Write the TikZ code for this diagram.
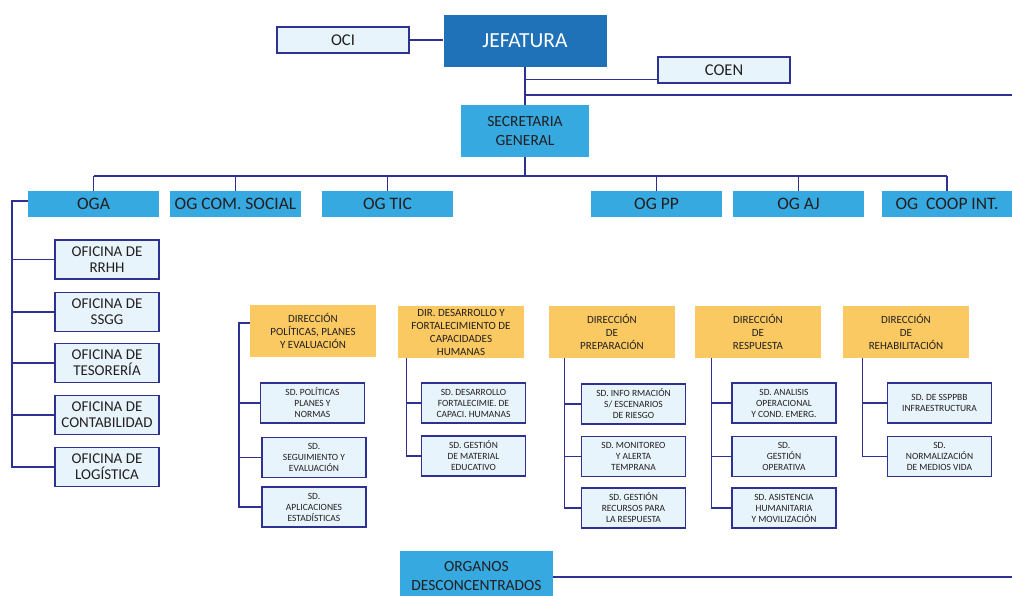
\documentclass[tikz,border=0pt]{standalone}
\usepackage{fontspec}
\setmainfont{Carlito}
\definecolor{navy}{RGB}{46,49,146}
\definecolor{jefblue}{RGB}{31,114,184}
\definecolor{ogblue}{RGB}{54,169,225}
\definecolor{dirgold}{RGB}{251,201,98}
\definecolor{paleblue}{RGB}{232,244,252}
\definecolor{ink}{RGB}{35,31,32}

\begin{document}
\begin{tikzpicture}[x=1pt,y=-1pt]
              \tikzstyle{every node}+=[inner sep=0pt, align=center, text=ink]
              \tikzstyle{lnk}=[draw=navy, line width=1.3pt]
              \tikzstyle{jefbox}=[fill=jefblue, text=white, minimum width=163pt, minimum height=52pt, font=\fontsize{21.5}{23}\selectfont]
              \tikzstyle{topbox}=[fill=paleblue, draw=navy, line width=1.1pt, minimum width=132pt, minimum height=26pt, font=\fontsize{16.5}{18}\selectfont]
              \tikzstyle{ogbox}=[fill=ogblue, minimum width=131pt, minimum height=26pt, font=\fontsize{17.5}{19}\selectfont]
              \tikzstyle{secbox}=[fill=ogblue, minimum width=128pt, minimum height=52pt, font=\fontsize{15.5}{19}\selectfont]
              \tikzstyle{ofbox}=[fill=paleblue, draw=navy, line width=1.1pt, minimum width=104pt, minimum height=39pt, font=\fontsize{15}{16}\selectfont]
              \tikzstyle{dirbox}=[fill=dirgold, minimum width=126pt, minimum height=52pt, font=\fontsize{11}{13}\selectfont]
              \tikzstyle{sdbox}=[fill=paleblue, draw=navy, line width=1.1pt, minimum width=104pt, minimum height=40pt, font=\fontsize{9.5}{11}\selectfont]
              \useasboundingbox (0,0) rectangle (1012,595);
              % cabecera
              \node [jefbox] (jef) at (525,41) {JEFATURA};
              \node [topbox] (oci) at (343,40) {OCI};
              \node [topbox] (coen) at (724,70) {COEN};
              \node [secbox] (sec) at (525,131) {SECRETARIA\\GENERAL};
              \coordinate (rgt) at (1012,95);
              \coordinate (busy) at (0,176);
              \draw [lnk] (oci.east) -- (oci.east -| jef.west);
              \draw [lnk] (jef.south) -- (sec.north);
              \draw [lnk] (jef.south |- coen.south) ++(0,-4) -- ([yshift=4pt]coen.south west);
              \draw [lnk] (jef.south |- rgt) -- (rgt);
              % organos de apoyo y asesoramiento
              \node [ogbox] (oga) at (93.5,204) {OGA};
              \node [ogbox] (ogcs) at (235.5,204) {OG COM. SOCIAL};
              \node [ogbox] (ogtic) at (387.5,204) {OG TIC};
              \node [ogbox] (ogpp) at (656.5,204) {OG PP};
              \node [ogbox] (ogaj) at (798.5,204) {OG AJ};
              \node [ogbox, minimum width=130pt] (ogcoop) at (947,204) {OG\ \ COOP INT.};
              \draw [lnk] (sec.south) -- (sec.south |- busy);
              \draw [lnk] (oga.north |- busy) -- (ogcoop.north |- busy);
              \foreach \n in {oga,ogcs,ogtic,ogpp,ogaj,ogcoop}
                \draw [lnk] (\n.north) -- (\n.north |- busy);
              % oficinas de la OGA
              \node [ofbox] (ofrrhh) at (107,259.5) {OFICINA DE\\RRHH};
              \node [ofbox] (ofssgg) at (107,312) {OFICINA DE\\SSGG};
              \node [ofbox] (oftes) at (107,363) {OFICINA DE\\TESORERÍA};
              \node [ofbox] (ofcont) at (107,415) {OFICINA DE\\CONTABILIDAD};
              \node [ofbox] (oflog) at (107,467) {OFICINA DE\\LOGÍSTICA};
              \coordinate (ogal) at (12,201);
              \draw [lnk] ([yshift=3pt]oga.west) -- (ogal) |- (oflog.west);
              \foreach \n in {ofrrhh,ofssgg,oftes,ofcont}
                \draw [lnk] (ogal |- \n.west) -- (\n.west);
              % direcciones
              \node [dirbox] (dpol) at (313,331) {DIRECCIÓN\\POLÍTICAS, PLANES\\Y EVALUACIÓN};
              \node [dirbox] (ddes) at (461,332) {DIR. DESARROLLO Y\\FORTALECIMIENTO DE\\CAPACIDADES\\HUMANAS};
              \node [dirbox] (dpre) at (612,332) {DIRECCIÓN\\DE\\PREPARACIÓN};
              \node [dirbox] (dres) at (758,332) {DIRECCIÓN\\DE\\RESPUESTA};
              \node [dirbox] (dreh) at (906,332) {DIRECCIÓN\\DE\\REHABILITACIÓN};
              % subdirecciones
              \node [sdbox] (sdpol) at (312.5,403) {SD. POLÍTICAS\\PLANES Y\\NORMAS};
              \node [sdbox] (sdseg) at (314,457.5) {SD.\\SEGUIMIENTO Y\\EVALUACIÓN};
              \node [sdbox] (sdapl) at (314,507) {SD.\\APLICACIONES\\ESTADÍSTICAS};
              \node [sdbox] (sddes) at (473.5,403) {SD. DESARROLLO\\FORTALECIMIE. DE\\CAPACI. HUMANAS};
              \node [sdbox] (sdmat) at (473.5,456) {SD. GESTIÓN\\DE MATERIAL\\EDUCATIVO};
              \node [sdbox] (sdinf) at (633.5,404) {SD. INFO RMACIÓN\\S/ ESCENARIOS\\DE RIESGO};
              \node [sdbox] (sdmon) at (633.5,456.5) {SD. MONITOREO\\Y ALERTA\\TEMPRANA};
              \node [sdbox] (sdrec) at (633.5,508) {SD. GESTIÓN\\RECURSOS PARA\\LA RESPUESTA};
              \node [sdbox] (sdana) at (784,403) {SD. ANALISIS\\OPERACIONAL\\Y COND. EMERG.};
              \node [sdbox] (sdope) at (784,456.5) {SD.\\GESTIÓN\\OPERATIVA};
              \node [sdbox] (sdasi) at (784,508) {SD. ASISTENCIA\\HUMANITARIA\\Y MOVILIZACIÓN};
              \node [sdbox] (sdssp) at (939.5,403) {SD. DE SSPPBB\\INFRAESTRUCTURA};
              \node [sdbox] (sdnor) at (939.5,456.5) {SD.\\NORMALIZACIÓN\\DE MEDIOS VIDA};
              \coordinate (spol) at (239,323);
              \draw [lnk] ([yshift=8pt]dpol.west) -- (spol) |- (sdapl.west);
              \foreach \n in {sdpol,sdseg}
                \draw [lnk] (spol |- \n.west) -- (\n.west);
              \coordinate (sdes) at ([xshift=9pt]ddes.south west);
              \draw [lnk] (sdes) |- (sdmat.west);
              \draw [lnk] (sdes |- sddes.west) -- (sddes.west);
              \coordinate (spre) at ([xshift=16pt]dpre.south west);
              \draw [lnk] (spre) |- (sdrec.west);
              \foreach \n in {sdinf,sdmon}
                \draw [lnk] (spre |- \n.west) -- (\n.west);
              \coordinate (sres) at ([xshift=17pt]dres.south west);
              \draw [lnk] (sres) |- (sdasi.west);
              \foreach \n in {sdana,sdope}
                \draw [lnk] (sres |- \n.west) -- (\n.west);
              \coordinate (sreh) at ([xshift=20pt]dreh.south west);
              \draw [lnk] (sreh) |- (sdnor.west);
              \draw [lnk] (sreh |- sdssp.west) -- (sdssp.west);
              % organos desconcentrados
              \node [secbox, minimum width=153pt, minimum height=50pt] (org) at (476.5,576) {ORGANOS\\DESCONCENTRADOS};
              \coordinate (orgr) at (1012,577);
              \draw [lnk] (org.east |- orgr) -- (orgr);
            \end{tikzpicture}
\end{document}
